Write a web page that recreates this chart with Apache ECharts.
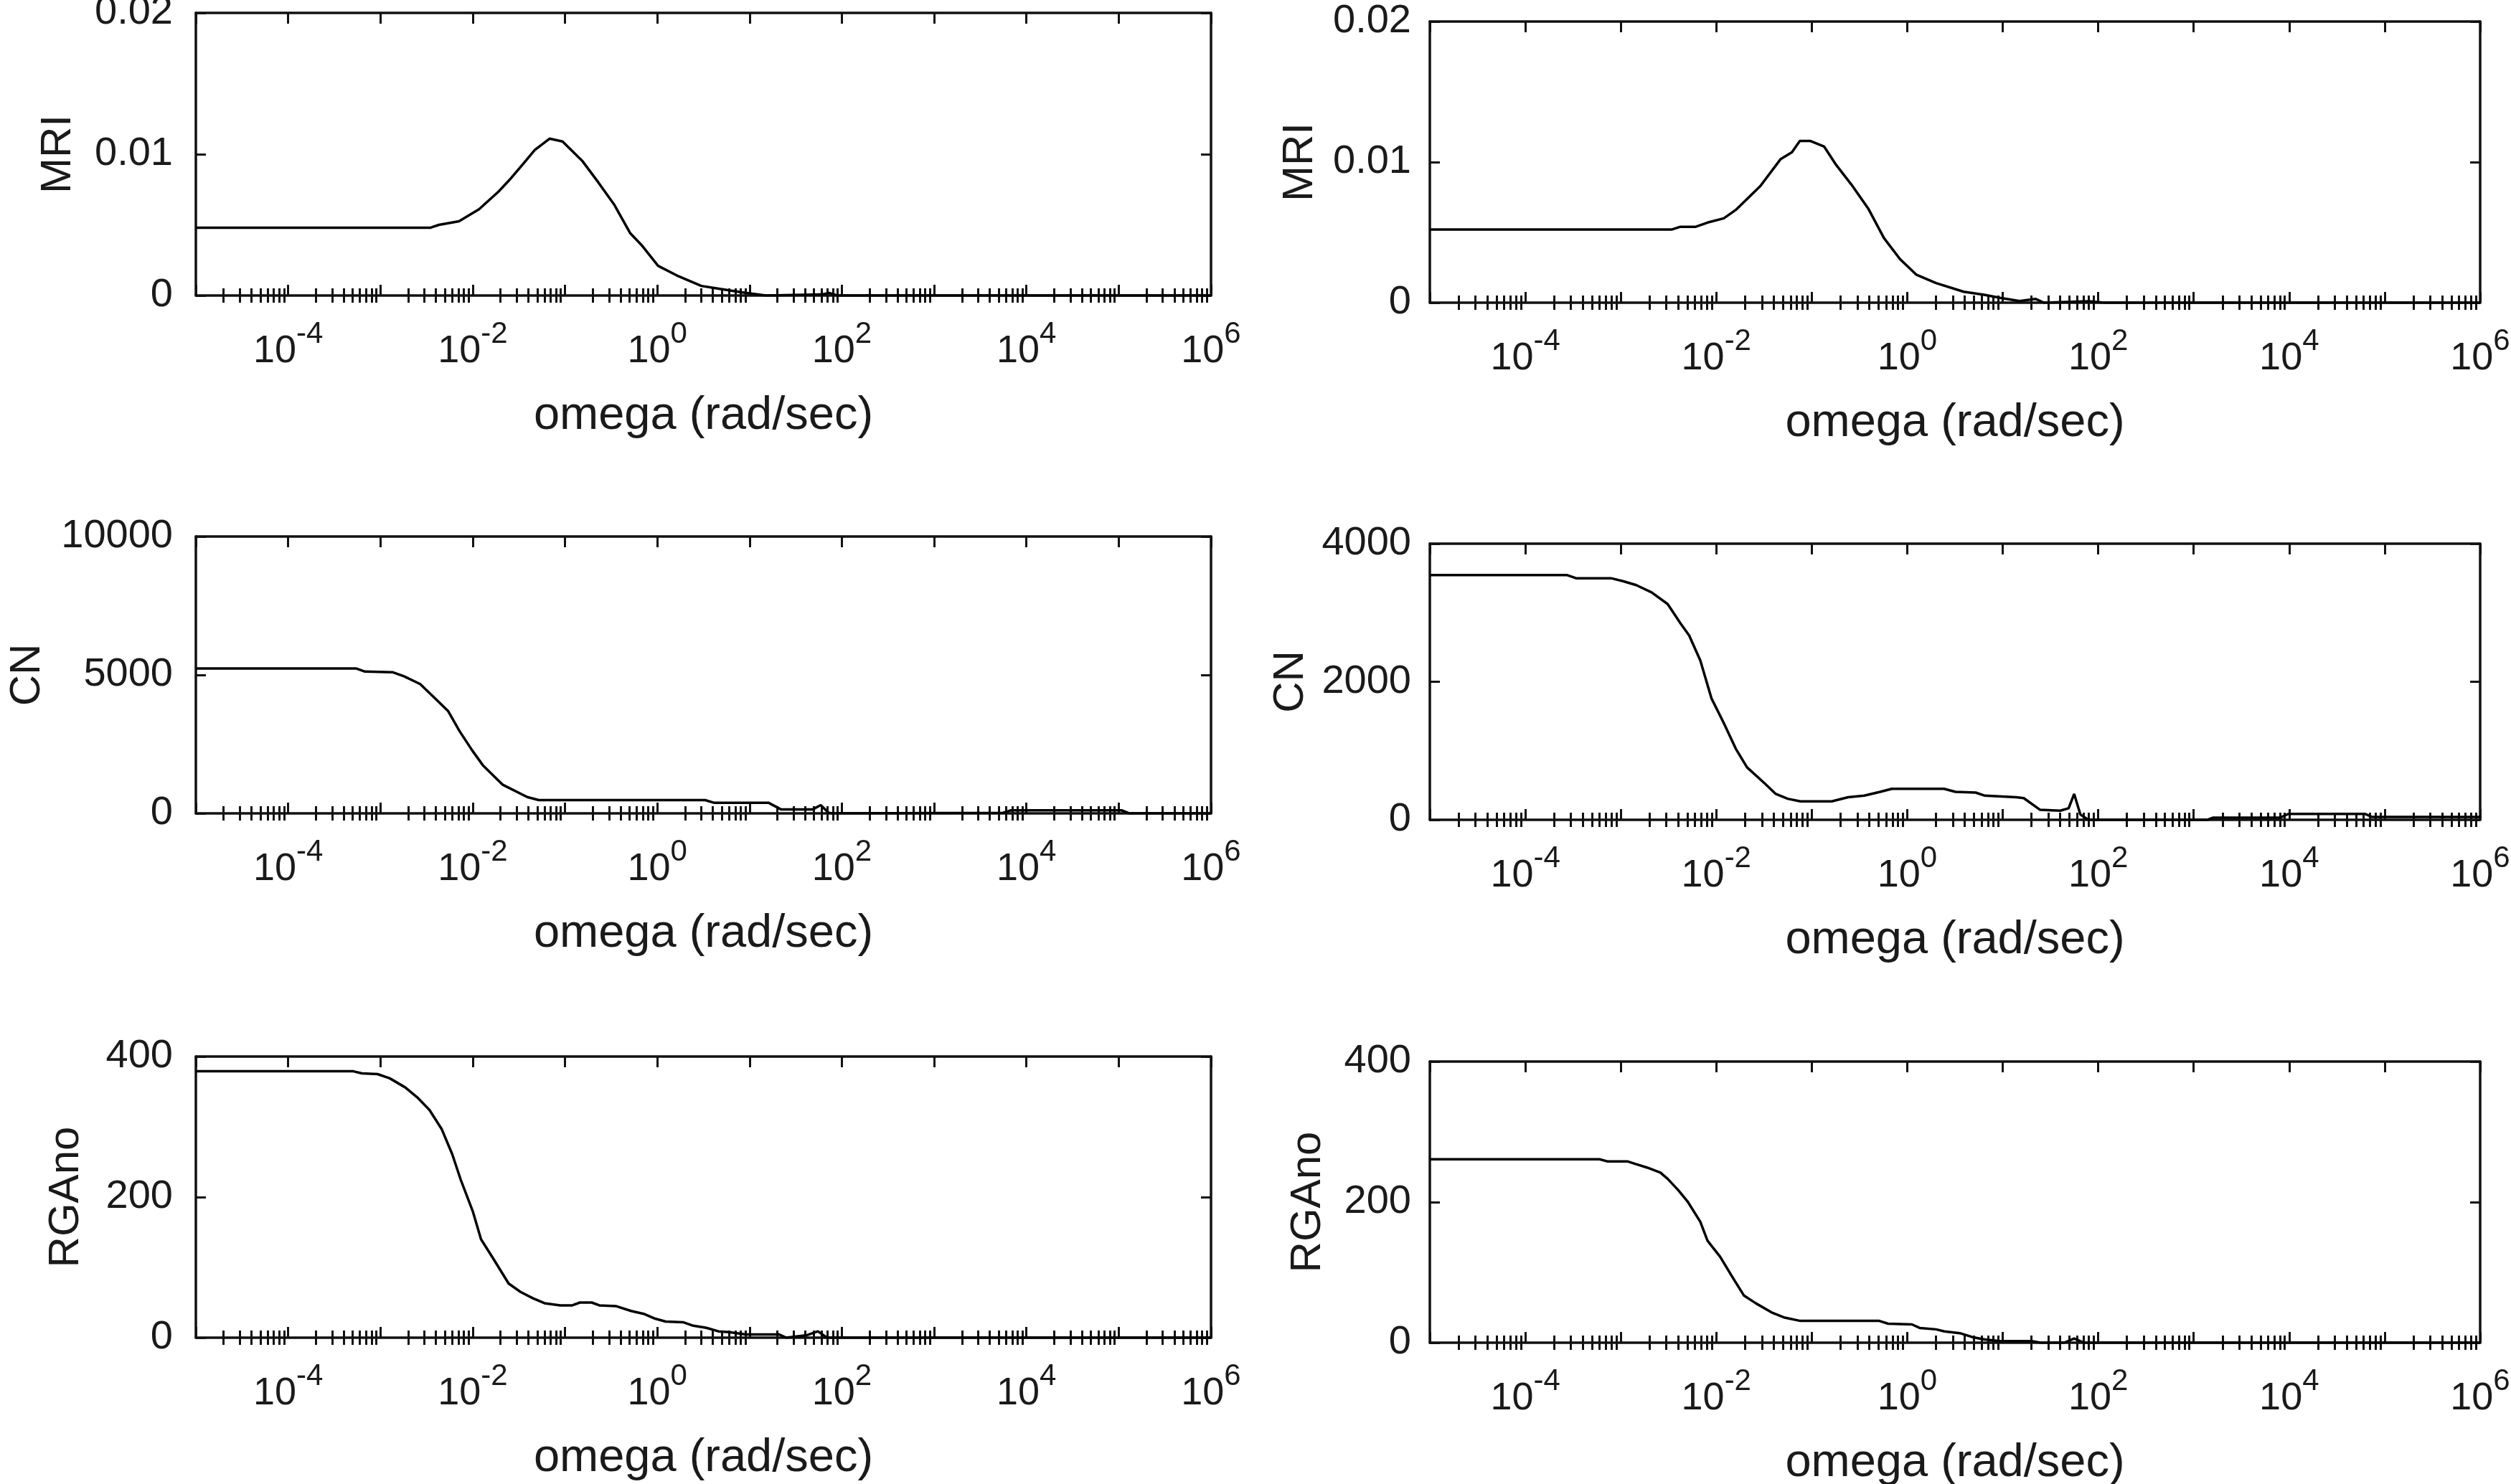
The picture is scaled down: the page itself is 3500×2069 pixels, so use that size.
<!DOCTYPE html>
<html><head><meta charset="utf-8">
<script src="https://cdn.jsdelivr.net/npm/echarts@6/dist/echarts.min.js"></script>
<style>html,body{margin:0;padding:0;background:#fff}#c{width:3500px;height:2069px}</style>
</head><body><div id="c"></div>
<script>
// ---------- axis ticks / labels ----------
const decadeTicks = [1e-5, 1e-4, 1e-3, 1e-2, 1e-1, 1, 1e1, 1e2, 1e3, 1e4, 1e5, 1e6];
const labelTicks = [1e-4, 1e-2, 1, 1e2, 1e4, 1e6];
const minorMultipliers = [2, 3, 4, 5, 6, 7, 8, 9];
const xTitle = 'omega (rad/sec)';
const mriTicks = [0, 0.01, 0.02];
const cnLeftTicks = [0, 5000, 10000];
const cnRightTicks = [0, 2000, 4000];
const rgaTicks = [0, 200, 400];

// ---------- data (omega in rad/sec) ----------
const mriLeftOmega = [1e-5, 3.5e-3, 4.3e-3, 7.1e-3, 1.17e-2, 1.9e-2, 2.6e-2, 3.5e-2, 4.7e-2, 6.8e-2, 9.4e-2, 0.155, 0.23, 0.34, 0.51, 0.69, 1.02, 1.7, 3.0, 4.5, 8.2, 15, 60, 73, 89, 1e6];
const mriLeftValue = [0.0048, 0.0048, 0.0050, 0.00525, 0.0061, 0.00735, 0.0083, 0.0093, 0.0103, 0.0111, 0.0109, 0.0095, 0.0080, 0.00645, 0.0044, 0.0035, 0.0021, 0.00136, 0.00068, 0.0005, 0.00023, 0, 0.00007, 0.00018, 0, 0];

const mriRightOmega = [1e-5, 3.4e-3, 4.2e-3, 6.1e-3, 8.1e-3, 1.2e-2, 1.6e-2, 2.9e-2, 4.7e-2, 6.2e-2, 7.5e-2, 9.7e-2, 0.135, 0.18, 0.26, 0.39, 0.57, 0.84, 1.24, 2.0, 3.9, 6.4, 9.4, 15, 22, 27, 80, 115, 1e6];
const mriRightValue = [0.0052, 0.0052, 0.0054, 0.0054, 0.0057, 0.0060, 0.0066, 0.0083, 0.0102, 0.0107, 0.0115, 0.0115, 0.0111, 0.0098, 0.0084, 0.0067, 0.0046, 0.0031, 0.0020, 0.0014, 0.00078, 0.00056, 0.00034, 0.00011, 0.00027, 0, 0.0001, 0, 0];

const cnLeftOmega = [1e-5, 5.5e-4, 6.8e-4, 1.35e-3, 1.8e-3, 2.7e-3, 3.6e-3, 5.4e-3, 7.2e-3, 9.8e-3, 1.3e-2, 2.1e-2, 3.9e-2, 5.2e-2, 8.5e-2, 3.3, 4.1, 16, 22, 48, 59, 72, 80, 5.6e3, 6.8e3, 1.07e5, 1.3e5, 1e6];
const cnLeftValue = [5230, 5230, 5120, 5100, 4950, 4670, 4270, 3700, 2970, 2290, 1720, 1040, 590, 480, 480, 480, 385, 385, 140, 140, 300, 20, 0, 20, 110, 110, 0, 0];

const cnRightOmega = [1e-5, 2.75e-4, 3.4e-4, 7.9e-4, 1.07e-3, 1.45e-3, 2.1e-3, 3.1e-3, 4.2e-3, 5.2e-3, 6.8e-3, 8.9e-3, 1.2e-2, 1.6e-2, 2.1e-2, 3.2e-2, 4.2e-2, 5.6e-2, 7.6e-2, 0.162, 0.24, 0.355, 0.52, 0.69, 2.43, 3.2, 5.2, 6.5, 13.8, 16.6, 24.5, 40, 49, 56, 65, 79, 1.4e3, 1.6e3, 8.1e3, 9.8e3, 6.2e4, 7.4e4, 1e6];
const cnRightValue = [3545, 3545, 3500, 3500, 3455, 3400, 3295, 3125, 2850, 2670, 2310, 1760, 1400, 1030, 760, 530, 375, 305, 268, 268, 328, 350, 405, 450, 450, 405, 395, 350, 328, 314, 146, 132, 168, 375, 77, 0, 0, 32, 32, 86, 86, 41, 41];

const rgaLeftOmega = [1e-5, 5.1e-4, 6.3e-4, 9.3e-4, 1.26e-3, 1.86e-3, 2.5e-3, 3.4e-3, 4.6e-3, 6.0e-3, 7.4e-3, 1.0e-2, 1.23e-2, 1.66e-2, 2.45e-2, 3.3e-2, 4.5e-2, 6.0e-2, 8.9e-2, 0.12, 0.145, 0.195, 0.235, 0.355, 0.52, 0.71, 0.95, 1.23, 1.9, 2.45, 3.4, 4.6, 6.0, 9.1, 21, 25, 42, 55, 69, 1e6];
const rgaLeftValue = [379, 379, 376, 375, 369, 356, 342, 324, 297, 261, 225, 180, 140, 113, 77, 65, 56, 49, 46, 46, 50, 50, 46, 45, 38, 34, 27, 23, 22, 17, 14, 9, 8, 4.5, 4.5, 0, 3.6, 9, 0, 0];

const rgaRightOmega = [1e-5, 6.0e-4, 7.2e-4, 1.17e-3, 1.45e-3, 1.9e-3, 2.6e-3, 3.1e-3, 4.0e-3, 5.0e-3, 6.8e-3, 8.1e-3, 1.1e-2, 1.45e-2, 1.95e-2, 2.6e-2, 3.8e-2, 5.1e-2, 7.6e-2, 0.51, 0.63, 1.12, 1.35, 2.0, 2.45, 3.55, 4.8, 6.5, 9.3, 20, 25, 44, 56, 71, 1e6];
const rgaRightValue = [261, 261, 258, 258, 254, 249, 242, 233, 217, 201, 172, 145, 122, 95, 67, 56, 43, 36, 31, 31, 27, 26, 21, 19, 16, 13.6, 8, 4.5, 2.3, 2.3, 0, 0, 6, 0, 0];

// ---------- layout / style ----------
const FONT = "'Liberation Sans', Arial, Helvetica, sans-serif";
const AX = '#111';
const TXT = '#1a1a1a';
const panels = [
  {title: 'MRI',   omega: mriLeftOmega,  value: mriLeftValue,  ticks: mriTicks,     box: [273, 18, 1415, 394],  yGap: 162, yMargin: 32},
  {title: 'MRI',   omega: mriRightOmega, value: mriRightValue, ticks: mriTicks,     box: [1993, 30, 1464, 392], yGap: 151, yMargin: 26},
  {title: 'CN',    omega: cnLeftOmega,   value: cnLeftValue,   ticks: cnLeftTicks,  box: [273, 748, 1415, 386], yGap: 205, yMargin: 32},
  {title: 'CN',    omega: cnRightOmega,  value: cnRightValue,  ticks: cnRightTicks, box: [1993, 758, 1464, 385], yGap: 164, yMargin: 26},
  {title: 'RGAno', omega: rgaLeftOmega,  value: rgaLeftValue,  ticks: rgaTicks,     box: [273, 1473, 1415, 392], yGap: 151, yMargin: 32},
  {title: 'RGAno', omega: rgaRightOmega, value: rgaRightValue, ticks: rgaTicks,     box: [1993, 1480, 1464, 392], yGap: 140, yMargin: 26}
];

const minorTicks = [];
decadeTicks.slice(0, -1).forEach(d => minorMultipliers.forEach(m => minorTicks.push(m * d)));

const rich = {
  b: {fontSize: 54, lineHeight: 54, fontFamily: FONT, color: TXT, verticalAlign: 'bottom'},
  s: {fontSize: 42, lineHeight: 42, fontFamily: FONT, color: TXT, verticalAlign: 'bottom', padding: [0, 0, 30, 0]}
};
function xFmt(v) {
  const e = Math.round(Math.log10(v));
  return '{b|10}{s|' + e + '}';
}

const grids = [], xAxes = [], yAxes = [], series = [];
panels.forEach((p, i) => {
  grids.push({left: p.box[0], top: p.box[1], width: p.box[2], height: p.box[3], containLabel: false, outerBoundsMode: 'none'});
  const base = {type: 'log', logBase: 10, min: 1e-5, max: 1e6, gridIndex: i, splitLine: {show: false}, minorTick: {show: false}, minorSplitLine: {show: false}};
  const lineSt = {color: AX, width: 3.5};
  const tickSt = {color: AX, width: 3};
  const xi = xAxes.length;
  xAxes.push(Object.assign({}, base, {
    position: 'bottom',
    axisLine: {show: true, onZero: false, lineStyle: lineSt},
    axisTick: {show: true, inside: true, length: 15, customValues: decadeTicks, lineStyle: tickSt},
    axisLabel: {show: true, customValues: labelTicks, margin: 51, formatter: xFmt, rich: rich, hideOverlap: false},
    name: xTitle, nameLocation: 'middle', nameGap: 136,
    nameTextStyle: {fontSize: 65, fontFamily: FONT, color: TXT}
  }));
  xAxes.push(Object.assign({}, base, {
    position: 'bottom',
    axisLine: {show: false},
    axisTick: {show: true, inside: true, length: 10, customValues: minorTicks, lineStyle: tickSt},
    axisLabel: {show: false}
  }));
  xAxes.push(Object.assign({}, base, {
    position: 'top',
    axisLine: {show: true, onZero: false, lineStyle: lineSt},
    axisTick: {show: true, inside: true, length: 15, customValues: decadeTicks, lineStyle: tickSt},
    axisLabel: {show: false}
  }));
  xAxes.push(Object.assign({}, base, {
    position: 'top',
    axisLine: {show: false},
    axisTick: {show: true, inside: true, length: 10, customValues: minorTicks, lineStyle: tickSt},
    axisLabel: {show: false}
  }));
  const yBase = {type: 'value', gridIndex: i, min: p.ticks[0], max: p.ticks[p.ticks.length - 1], interval: p.ticks[1] - p.ticks[0], splitLine: {show: false}};
  const yi = yAxes.length;
  yAxes.push(Object.assign({}, yBase, {
    position: 'left',
    axisLine: {show: true, onZero: false, lineStyle: lineSt},
    axisTick: {show: true, inside: true, length: 14, lineStyle: tickSt},
    axisLabel: {show: true, margin: p.yMargin, fontSize: 56, fontFamily: FONT, color: TXT, formatter: v => String(v)},
    name: p.title, nameLocation: 'middle', nameGap: p.yGap,
    nameTextStyle: {fontSize: 60, fontFamily: FONT, color: TXT}
  }));
  yAxes.push(Object.assign({}, yBase, {
    position: 'right',
    axisLine: {show: true, onZero: false, lineStyle: lineSt},
    axisTick: {show: true, inside: true, length: 14, lineStyle: tickSt},
    axisLabel: {show: false}
  }));
  series.push({
    type: 'line', xAxisIndex: xi, yAxisIndex: yi,
    data: p.omega.map((w, k) => [w, p.value[k]]),
    showSymbol: false, symbol: 'none', smooth: false,
    lineStyle: {color: '#000', width: 3.5}, itemStyle: {color: '#000'},
    clip: true, silent: true
  });
});

const chart = echarts.init(document.getElementById('c'), null, {renderer: 'canvas'});
chart.setOption({
  backgroundColor: '#fff',
  animation: false,
  grid: grids, xAxis: xAxes, yAxis: yAxes, series: series
});
</script></body></html>
